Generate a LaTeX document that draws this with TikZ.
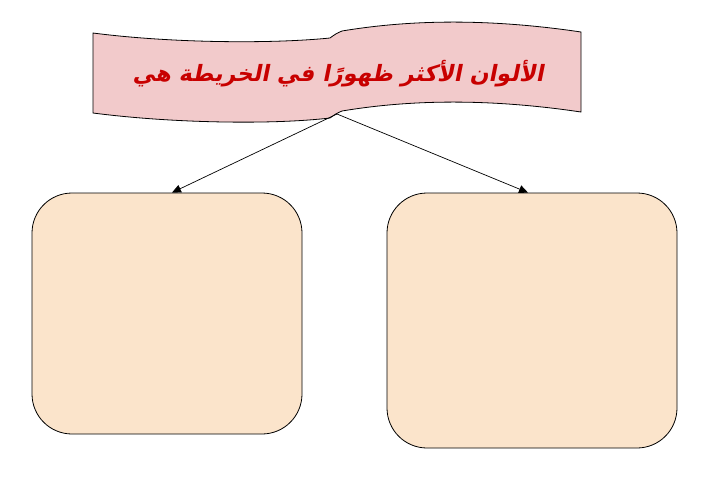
\documentclass[tikz,border=0pt]{standalone}
\usepackage{fontspec}
\usetikzlibrary{arrows.meta}
\TeXXeTstate=1
\newfontfamily\arabicfont[Script=Arabic,FakeSlant=0.2]{DejaVu Sans Bold}
\definecolor{bannerfill}{HTML}{F2CACB}
\definecolor{boxfill}{HTML}{FBE4CB}
\definecolor{titlered}{HTML}{C80000}
\tikzset{
  bannerstyle/.style={draw=black, line width=0.8pt, fill=bannerfill},
  boxstyle/.style={draw=black, line width=0.8pt, fill=boxfill, rounded corners=40pt, rectangle, inner sep=0pt},
  link/.style={draw=black, line width=0.7pt, -{Triangle[length=9pt,width=8pt]}}
}
\begin{document}
\begin{tikzpicture}[x=1pt,y=-1pt]
\useasboundingbox (0,0) rectangle (717,477);
% banner (wave shape)
\path[bannerstyle] (93,33) .. controls (170,43) and (270,44) .. (330,38)
  .. controls (334,35) and (337,33) .. (342,31)
  .. controls (420,18) and (500,20) .. (581,32)
  -- (581,112)
  .. controls (500,100) and (420,98) .. (342,111)
  .. controls (337,113) and (334,115) .. (330,118)
  .. controls (270,125) and (170,123) .. (93,113) -- cycle;
\node (title) at (338,74) {\fontsize{22.5}{26}\selectfont\arabicfont\color{titlered}\beginR الألوان الأكثر ظهورًا في الخريطة هي\endR};
\coordinate (bannerfoot) at (337,114);
% boxes
\node[boxstyle, minimum width=270pt, minimum height=241pt] (lbox) at (167,313.5) {};
\node[boxstyle, minimum width=290pt, minimum height=255pt] (rbox) at (532,320.5) {};
% connectors
\draw[link] (bannerfoot) -- ([xshift=5pt]lbox.north);
\draw[link] (bannerfoot) -- ([xshift=-4pt]rbox.north);
\end{tikzpicture}
\end{document}
